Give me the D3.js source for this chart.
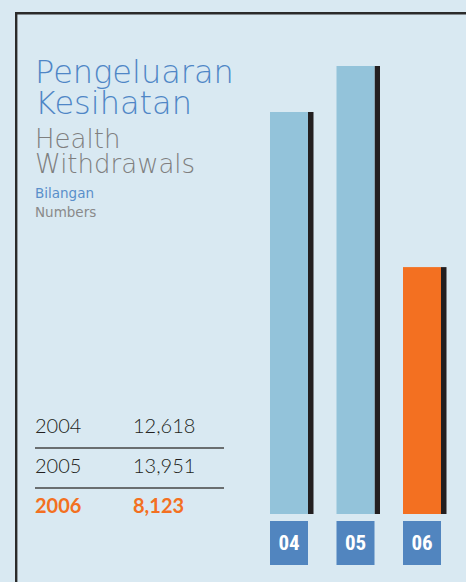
<!DOCTYPE html>
<html>
<head>
<meta charset="utf-8">
<script src="https://cdn.jsdelivr.net/npm/d3@7"></script>
<style>
  html, body { margin: 0; padding: 0; background: #d9e9f2; }
  svg { display: block; }
</style>
</head>
<body>
<div id="chart"></div>
<script>
// data
var years = ["2004", "2005", "2006"];
var shortYears = ["04", "05", "06"];
var values = [12618, 13951, 8123];

var w = 466;
var h = 582;
var blue = "#93c3da";
var orange = "#f37021";
var shadow = "#231f20";
var boxBlue = "#5185bf";
var titleFont = "'DejaVu Sans', sans-serif";
var tableFont = "Lato, 'Liberation Sans', sans-serif";

var svg = d3.select("#chart")
    .append("svg")
    .attr("width", w)
    .attr("height", h);

svg.append("rect")
    .attr("width", w)
    .attr("height", h)
    .attr("fill", "#d9e9f2");

// frame, only the left and top edges show
svg.append("path")
    .attr("d", "M16.2," + h + "V13.2H" + w)
    .attr("fill", "none")
    .attr("stroke", "#2b2b2b")
    .attr("stroke-width", 2.4);

// titles
var titles = svg.append("g").attr("font-family", titleFont).attr("font-weight", 200);

titles.append("text").attr("x", 35).attr("y", 83)
    .attr("font-size", 32).attr("fill", "#4f86c6").text("Pengeluaran");
titles.append("text").attr("x", 35).attr("y", 114)
    .attr("font-size", 32).attr("fill", "#4f86c6").text("Kesihatan");
titles.append("text").attr("x", 35).attr("y", 148)
    .attr("font-size", 26).attr("fill", "#7f7f7f").text("Health");
titles.append("text").attr("x", 35).attr("y", 173)
    .attr("font-size", 26).attr("fill", "#7f7f7f").text("Withdrawals");
titles.append("text").attr("x", 35).attr("y", 198)
    .attr("font-size", 13.5).attr("font-weight", 400).attr("fill", "#5a8fca").text("Bilangan");
titles.append("text").attr("x", 35).attr("y", 217)
    .attr("font-size", 13.5).attr("font-weight", 400).attr("fill", "#8a8a8a").text("Numbers");

// table
var rowY = d3.scalePoint().domain(years).range([433, 513]);
var fmt = d3.format(",");
var last = years[years.length - 1];

var rows = svg.append("g").selectAll("g.row")
    .data(years)
    .enter().append("g")
    .attr("class", "row")
    .attr("font-family", tableFont)
    .attr("font-size", 20)
    .attr("fill", function(d) { return d == last ? orange : "#231f20"; })
    .attr("font-weight", function(d) { return d == last ? 700 : 300; });

rows.append("text")
    .attr("x", 35)
    .attr("y", function(d) { return rowY(d); })
    .text(function(d) { return d; });

rows.append("text")
    .attr("x", 133)
    .attr("y", function(d) { return rowY(d); })
    .text(function(d, i) { return fmt(values[i]); });

svg.append("g").selectAll("line")
    .data(years.slice(0, -1))
    .enter().append("line")
    .attr("x1", 35)
    .attr("x2", 224)
    .attr("y1", function(d) { return rowY(d) + 15; })
    .attr("y2", function(d) { return rowY(d) + 15; })
    .attr("stroke", "#444")
    .attr("stroke-width", 1.5);

// bars
var x = d3.scaleBand()
    .domain(shortYears)
    .range([270, 441])
    .paddingInner(0.4286);

var y = d3.scaleLinear()
    .domain([968, d3.max(values)])
    .range([514, 66]);

var bars = svg.append("g").selectAll("g.bar")
    .data(values)
    .enter().append("g")
    .attr("class", "bar");

bars.append("rect")
    .attr("x", function(d, i) { return x(shortYears[i]) + x.bandwidth(); })
    .attr("y", function(d) { return y(d); })
    .attr("width", 5.5)
    .attr("height", function(d) { return y.range()[0] - y(d); })
    .attr("fill", shadow);

bars.append("rect")
    .attr("x", function(d, i) { return x(shortYears[i]); })
    .attr("y", function(d) { return y(d); })
    .attr("width", x.bandwidth())
    .attr("height", function(d) { return y.range()[0] - y(d); })
    .attr("fill", function(d, i) { return i == values.length - 1 ? orange : blue; });

// year boxes under the bars
var boxes = svg.append("g").selectAll("g.box")
    .data(shortYears)
    .enter().append("g")
    .attr("class", "box");

boxes.append("rect")
    .attr("x", function(d) { return x(d); })
    .attr("y", 521)
    .attr("width", x.bandwidth())
    .attr("height", 44)
    .attr("fill", boxBlue);

boxes.append("text")
    .attr("x", function(d) { return x(d) + x.bandwidth() / 2; })
    .attr("y", 550)
    .attr("text-anchor", "middle")
    .attr("font-family", "'Liberation Sans Narrow', 'Roboto Condensed', Roboto, sans-serif")
    .attr("font-weight", 700)
    .attr("font-size", 21)
    .attr("fill", "#fff")
    .text(function(d) { return d; });
</script>
</body>
</html>
